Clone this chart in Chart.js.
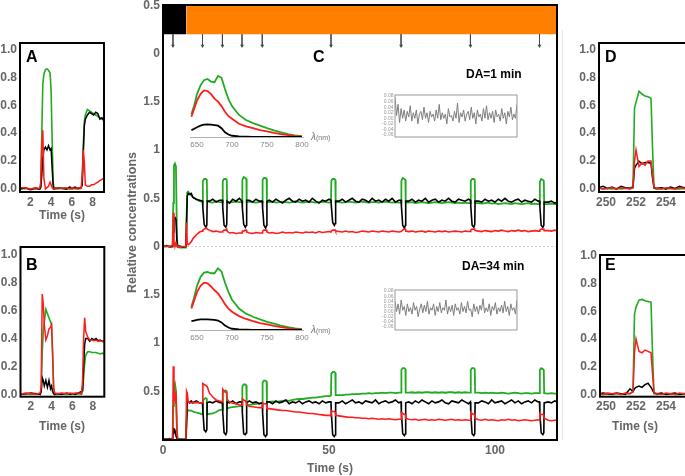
<!DOCTYPE html>
<html><head><meta charset="utf-8">
<script src="https://cdn.jsdelivr.net/npm/chart.js@4.4.1/dist/chart.umd.min.js"></script>
<style>
html,body{margin:0;padding:0;background:#fff;overflow:hidden;width:685px;height:476px;}
canvas{position:absolute;}
</style></head><body>
<canvas id="cC"></canvas>
<canvas id="cS1"></canvas>
<canvas id="cS2"></canvas>
<canvas id="cR1"></canvas>
<canvas id="cR2"></canvas>
<canvas id="cA"></canvas>
<canvas id="cB"></canvas>
<canvas id="cD"></canvas>
<canvas id="cE"></canvas>
<svg width="685" height="476" style="position:absolute;left:0;top:0" font-family="Liberation Sans, Arial, sans-serif">
  <line x1="562.5" y1="30" x2="562.5" y2="440" stroke="#e4e4e4" stroke-width="1"/>
  <g font-weight="bold" font-size="16" fill="#000">
    <text x="26" y="62">A</text>
    <text x="26" y="270">B</text>
    <text x="313" y="62">C</text>
    <text x="605" y="62">D</text>
    <text x="605" y="270">E</text>
  </g>
  <g font-weight="bold" font-size="12" fill="#000">
    <text x="466" y="77.5">DA=1 min</text>
    <text x="462" y="269.5">DA=34 min</text>
  </g>
  <g font-weight="bold" font-size="12" fill="#666" text-anchor="middle">
    <text x="62" y="219">Time (s)</text>
    <text x="62" y="430">Time (s)</text>
    <text x="330" y="472">Time (s)</text>
    <text x="635" y="430">Time (s)</text>
  </g>
  <g fill="#777">
    <text x="311" y="140"><tspan font-style="italic" font-size="10">λ</tspan><tspan font-size="7">(nm)</tspan></text>
    <text x="311" y="333"><tspan font-style="italic" font-size="10">λ</tspan><tspan font-size="7">(nm)</tspan></text>
  </g>
</svg>
<script>
// ---------------- DATA ----------------
// Panel C time base (s)
const tC = [0,1,2,2.9,3.1,3.3,3.6,3.9,4.2,4.4,5,6,6.9,7.1,7.3,7.6,8,8.5,9,9.5,10,11,
 11.9,12.0,12.4,12.9,13.2,13.3,
 14,15,16,17,
 17.9,18.0,18.4,18.9,19.2,19.3,
 20,21,22,23,
 23.8,23.9,24.3,24.8,25.1,25.2,
 26,27,28,29,
 29.9,30.0,30.4,30.9,31.2,31.3,
 32,33,34,35,36,37,38,39,40,41,42,43,44,45,46,47,48,49,50,
 50.6,50.7,51.1,51.6,51.9,52.0,
 53,54,55,56,57,58,59,60,61,62,63,64,65,66,67,68,69,70,71,
 71.7,71.8,72.2,72.7,73.0,73.1,
 74,75,76,77,78,79,80,81,82,83,84,85,86,87,88,89,90,91,92,
 92.6,92.7,93.1,93.6,93.9,94.0,
 95,96,97,98,99,100,101,102,103,104,105,106,107,108,109,110,111,112,113,
 113.4,113.5,113.9,114.4,114.7,114.8,
 116,117,118,118.7];

// DA = 1 min (upper trace in C)
const topGreen = [0.0,0.0,0.005,0.0,0.45,0.84,0.86,0.83,0.1,-0.005,-0.01,-0.01,-0.01,0.3,0.56,0.57,0.55,0.53,0.51,0.5,0.49,0.47,
 0.465,0.68,0.70,0.70,0.69,0.47,
 0.46,0.455,0.47,0.46,
 0.46,0.68,0.70,0.70,0.69,0.46,
 0.455,0.46,0.465,0.46,
 0.46,0.69,0.72,0.71,0.70,0.46,
 0.465,0.46,0.455,0.46,
 0.46,0.69,0.71,0.71,0.70,0.46,
 0.46,0.465,0.455,0.46,0.465,0.46,0.455,0.46,0.47,0.46,0.455,0.46,0.465,0.46,0.455,0.46,0.465,0.46,0.455,
 0.46,0.68,0.70,0.70,0.69,0.46,
 0.46,0.455,0.46,0.465,0.46,0.455,0.46,0.465,0.46,0.455,0.46,0.46,0.455,0.46,0.465,0.46,0.455,0.46,0.455,
 0.455,0.68,0.71,0.70,0.69,0.455,
 0.455,0.46,0.45,0.455,0.46,0.455,0.45,0.455,0.46,0.455,0.45,0.455,0.46,0.455,0.45,0.455,0.45,0.455,0.45,
 0.45,0.68,0.70,0.70,0.69,0.45,
 0.45,0.445,0.45,0.455,0.445,0.45,0.44,0.445,0.45,0.445,0.44,0.45,0.445,0.44,0.445,0.45,0.44,0.445,0.44,
 0.44,0.67,0.70,0.69,0.68,0.44,
 0.44,0.445,0.44,0.44];
const topBlack = [0.0,0.01,-0.005,0.0,0.15,0.29,0.3,0.28,0.05,0.0,0.005,-0.005,0.0,0.25,0.52,0.55,0.54,0.55,0.51,0.5,0.49,0.48,
 0.47,0.40,0.23,0.20,0.22,0.47,
 0.47,0.49,0.46,0.48,
 0.48,0.40,0.22,0.20,0.23,0.47,
 0.45,0.49,0.47,0.50,
 0.47,0.40,0.23,0.20,0.22,0.48,
 0.48,0.46,0.49,0.47,
 0.47,0.40,0.22,0.19,0.22,0.47,
 0.48,0.46,0.49,0.47,0.45,0.48,0.50,0.47,0.46,0.49,0.47,0.48,0.46,0.50,0.47,0.45,0.48,0.47,0.49,
 0.48,0.42,0.25,0.22,0.24,0.47,
 0.47,0.49,0.46,0.48,0.50,0.47,0.46,0.49,0.48,0.46,0.50,0.47,0.48,0.46,0.49,0.47,0.50,0.46,0.48,
 0.48,0.42,0.22,0.19,0.22,0.47,
 0.47,0.49,0.46,0.48,0.47,0.50,0.46,0.48,0.49,0.46,0.48,0.47,0.50,0.47,0.46,0.49,0.48,0.47,0.49,
 0.48,0.42,0.22,0.20,0.23,0.47,
 0.47,0.46,0.49,0.47,0.48,0.46,0.49,0.47,0.50,0.47,0.46,0.48,0.49,0.46,0.48,0.47,0.46,0.49,0.47,
 0.47,0.42,0.22,0.20,0.22,0.46,
 0.46,0.47,0.45,0.46];
const topRed = [0.0,0.005,0.0,0.01,0.35,0.05,0.0,0.04,0.01,0.0,-0.005,0.0,0.0,0.25,0.03,0.02,0.03,0.05,0.08,0.1,0.12,0.15,
 0.16,0.17,0.18,0.19,0.19,0.18,
 0.17,0.155,0.16,0.15,
 0.15,0.16,0.17,0.17,0.18,0.16,
 0.14,0.145,0.135,0.14,
 0.14,0.16,0.16,0.17,0.17,0.15,
 0.14,0.135,0.145,0.14,
 0.14,0.16,0.17,0.17,0.17,0.15,
 0.14,0.145,0.135,0.14,0.15,0.14,0.145,0.14,0.15,0.145,0.14,0.15,0.145,0.15,0.14,0.155,0.145,0.15,0.155,
 0.15,0.16,0.17,0.17,0.17,0.16,
 0.155,0.15,0.16,0.15,0.155,0.145,0.15,0.16,0.155,0.15,0.16,0.155,0.15,0.16,0.155,0.15,0.16,0.155,0.15,
 0.155,0.16,0.17,0.18,0.18,0.16,
 0.155,0.16,0.15,0.155,0.16,0.15,0.16,0.155,0.15,0.16,0.155,0.16,0.15,0.155,0.16,0.155,0.15,0.16,0.155,
 0.155,0.17,0.18,0.18,0.18,0.165,
 0.16,0.155,0.165,0.16,0.155,0.165,0.16,0.17,0.16,0.155,0.165,0.16,0.17,0.16,0.165,0.155,0.16,0.165,0.16,
 0.16,0.17,0.18,0.18,0.18,0.165,
 0.165,0.16,0.17,0.165];

// DA = 34 min (lower trace in C)
const botGreen = [0.0,0.005,0.0,0.0,0.35,0.55,0.58,0.51,0.1,0.0,-0.005,0.0,0.0,0.15,0.29,0.305,0.3,0.3,0.29,0.285,0.28,0.27,
 0.26,0.40,0.42,0.43,0.42,0.26,
 0.265,0.27,0.285,0.305,
 0.31,0.48,0.50,0.51,0.50,0.32,
 0.33,0.335,0.34,0.345,
 0.35,0.55,0.57,0.57,0.56,0.355,
 0.36,0.365,0.37,0.375,
 0.38,0.59,0.61,0.61,0.60,0.385,
 0.39,0.395,0.39,0.395,0.40,0.405,0.40,0.41,0.415,0.42,0.42,0.425,0.43,0.435,0.435,0.44,0.445,0.45,0.45,
 0.455,0.68,0.70,0.70,0.69,0.46,
 0.46,0.46,0.465,0.465,0.47,0.47,0.47,0.475,0.475,0.48,0.475,0.48,0.48,0.485,0.48,0.485,0.485,0.48,0.485,
 0.485,0.72,0.74,0.74,0.73,0.485,
 0.485,0.49,0.485,0.49,0.485,0.49,0.49,0.485,0.49,0.485,0.49,0.485,0.49,0.49,0.485,0.49,0.485,0.49,0.485,
 0.485,0.72,0.74,0.74,0.73,0.485,
 0.485,0.48,0.485,0.48,0.485,0.48,0.48,0.485,0.48,0.475,0.48,0.485,0.48,0.475,0.48,0.48,0.475,0.48,0.48,
 0.48,0.72,0.74,0.73,0.72,0.48,
 0.475,0.48,0.475,0.475];
const botBlack = [0.01,0.0,0.01,0.0,0.12,0.07,0.09,0.04,0.01,0.0,0.005,0.0,0.005,0.2,0.4,0.39,0.38,0.4,0.38,0.39,0.4,0.38,
 0.38,0.30,0.10,0.08,0.10,0.38,
 0.39,0.38,0.40,0.385,
 0.38,0.28,0.07,0.05,0.08,0.39,
 0.38,0.40,0.37,0.39,
 0.39,0.28,0.06,0.05,0.07,0.38,
 0.40,0.38,0.39,0.37,
 0.38,0.28,0.05,0.03,0.05,0.39,
 0.39,0.37,0.40,0.38,0.39,0.41,0.37,0.39,0.38,0.40,0.37,0.39,0.40,0.38,0.39,0.37,0.40,0.38,0.39,
 0.39,0.28,0.05,0.03,0.05,0.38,
 0.38,0.40,0.37,0.39,0.41,0.38,0.39,0.37,0.40,0.39,0.38,0.41,0.37,0.39,0.40,0.38,0.39,0.41,0.38,
 0.39,0.28,0.06,0.04,0.06,0.38,
 0.39,0.37,0.40,0.38,0.41,0.39,0.37,0.40,0.38,0.39,0.41,0.38,0.37,0.40,0.39,0.38,0.41,0.39,0.37,
 0.39,0.28,0.06,0.04,0.06,0.38,
 0.38,0.40,0.39,0.37,0.41,0.38,0.39,0.40,0.37,0.39,0.41,0.38,0.40,0.37,0.39,0.40,0.38,0.41,0.39,
 0.39,0.28,0.07,0.05,0.07,0.38,
 0.39,0.38,0.40,0.39];
const botRed = [0.0,0.0,0.005,0.0,0.76,0.45,0.41,0.5,0.1,0.0,0.0,-0.005,0.0,0.5,0.48,0.39,0.385,0.38,0.39,0.38,0.385,0.38,
 0.38,0.58,0.57,0.56,0.55,0.55,
 0.48,0.44,0.41,0.40,
 0.39,0.52,0.50,0.49,0.48,0.42,
 0.39,0.375,0.37,0.36,
 0.355,0.42,0.41,0.40,0.39,0.36,
 0.345,0.34,0.335,0.33,
 0.33,0.38,0.37,0.37,0.36,0.32,
 0.32,0.315,0.31,0.305,0.30,0.30,0.295,0.29,0.285,0.285,0.28,0.275,0.27,0.27,0.265,0.26,0.255,0.25,0.25,
 0.245,0.30,0.29,0.29,0.28,0.25,
 0.245,0.24,0.235,0.23,0.23,0.225,0.225,0.22,0.22,0.215,0.22,0.215,0.21,0.215,0.21,0.215,0.21,0.205,0.21,
 0.21,0.28,0.27,0.26,0.26,0.22,
 0.21,0.205,0.21,0.20,0.205,0.21,0.20,0.205,0.20,0.21,0.205,0.20,0.205,0.21,0.20,0.205,0.20,0.205,0.20,
 0.20,0.28,0.27,0.26,0.26,0.22,
 0.205,0.20,0.21,0.20,0.205,0.20,0.195,0.205,0.20,0.21,0.20,0.205,0.195,0.20,0.205,0.20,0.195,0.20,0.205,
 0.20,0.27,0.26,0.26,0.25,0.22,
 0.20,0.195,0.20,0.20];

// Light protocol bar (s) and flash arrows (s)
const barStart = [0, 7];
const barEnd = [7, 118.7];
const arrowTimes = [3.0, 11.9, 17.9, 23.8, 29.9, 50.6, 71.7, 92.6, 113.4];

// Panels A / B (zoom 1–9 s)
const tAB = [1.0,1.5,2.0,2.5,2.9,3.0,3.1,3.2,3.3,3.45,3.6,3.75,3.9,4.0,4.1,4.2,4.3,4.5,5.0,5.5,5.8,6.0,6.3,6.6,6.9,7.0,7.1,7.2,7.3,7.5,7.7,7.9,8.1,8.3,8.5,8.7,8.9,9.1];
const aGreen = [0.0,0.005,0.0,0.005,0.0,0.02,0.4,0.75,0.82,0.855,0.86,0.85,0.83,0.7,0.35,0.05,0.0,0.0,0.005,0.0,0.005,0.0,0.005,0.0,0.005,0.05,0.3,0.48,0.53,0.57,0.56,0.55,0.54,0.53,0.52,0.51,0.5,0.49];
const aBlack = [0.0,0.01,-0.005,0.005,0.0,0.01,0.1,0.22,0.28,0.3,0.28,0.31,0.28,0.29,0.15,0.02,0.0,0.01,0.005,0.0,0.015,0.005,0.015,0.005,0.01,0.03,0.25,0.45,0.5,0.53,0.55,0.54,0.53,0.55,0.54,0.5,0.51,0.49];
const aRed = [0.01,0.01,0.0,0.01,0.005,0.05,0.3,0.42,0.08,0.0,0.01,0.02,0.05,0.03,0.01,0.0,0.0,0.01,0.005,0.01,0.0,0.01,0.005,0.01,0.005,0.1,0.28,0.2,0.03,0.02,0.02,0.03,0.03,0.04,0.05,0.06,0.07,0.08];
const bGreen = [0.0,0.005,0.0,0.005,0.0,0.02,0.3,0.45,0.52,0.61,0.58,0.55,0.52,0.5,0.3,0.05,0.0,0.0,0.005,0.0,0.005,0.005,0.0,0.005,0.0,0.02,0.12,0.22,0.28,0.305,0.305,0.3,0.3,0.3,0.295,0.29,0.295,0.29];
const bBlack = [0.0,0.005,0.01,0.005,0.0,0.02,0.12,0.1,0.06,0.1,0.05,0.1,0.04,0.06,0.02,0.005,0.0,0.005,0.0,0.01,0.0,0.005,0.0,0.01,0.02,0.03,0.2,0.36,0.4,0.4,0.38,0.4,0.39,0.4,0.385,0.39,0.38,0.385];
const bRed = [0.0,0.01,0.005,0.0,0.01,0.05,0.72,0.65,0.5,0.39,0.42,0.47,0.48,0.5,0.3,0.05,0.01,0.005,0.01,0.005,0.01,0.005,0.01,0.01,0.005,0.1,0.4,0.55,0.45,0.41,0.39,0.39,0.385,0.39,0.38,0.385,0.38,0.375];

// Panels D / E (zoom 249.5–255.5 s)
const tDE = [249.5,249.8,250.1,250.4,250.7,251.0,251.3,251.6,251.8,251.9,252.0,252.2,252.4,252.6,252.8,253.0,253.1,253.2,253.4,253.7,254.0,254.3,254.6,254.9,255.2,255.5];
const dGreen = [0.005,0.0,0.005,0.0,0.005,0.0,0.005,0.005,0.02,0.58,0.62,0.70,0.68,0.665,0.66,0.65,0.3,0.005,0.0,0.005,0.0,0.005,0.0,0.0,0.005,0.0];
const dBlack = [0.01,0.02,0.005,0.015,0.0,0.02,0.01,0.005,0.01,0.15,0.17,0.2,0.18,0.19,0.19,0.185,0.08,0.01,0.005,0.01,0.0,0.015,0.005,0.02,0.01,0.015];
const dRed = [0.01,0.0,0.005,0.01,0.0,0.01,0.005,0.0,0.01,0.2,0.28,0.16,0.19,0.17,0.2,0.2,0.1,0.01,0.005,0.0,0.01,0.005,0.0,0.01,0.005,0.0];
const eGreen = [0.005,0.0,0.005,0.0,0.005,0.0,0.005,0.005,0.02,0.58,0.63,0.68,0.685,0.675,0.67,0.665,0.3,0.005,0.0,0.005,0.0,0.005,0.0,0.0,0.005,0.0];
const eBlack = [0.0,0.01,0.005,0.0,0.01,0.005,0.0,0.04,0.02,0.04,0.05,0.06,0.05,0.07,0.08,0.05,0.03,0.01,0.005,0.01,0.0,0.005,0.01,0.0,0.005,0.01];
const eRed = [0.01,0.0,0.01,0.005,0.01,0.0,0.01,0.005,0.02,0.3,0.4,0.31,0.3,0.32,0.31,0.3,0.15,0.01,0.005,0.0,0.01,0.005,0.0,0.01,0.005,0.0];

// Spectra insets (nm, arbitrary units)
const specNm = [642,646,650,655,660,665,670,675,680,685,690,695,700,710,720,730,740,750,760,770,780,790,800];
const spec1Green = [0.36,0.5,0.68,0.82,0.9,0.92,0.88,0.87,0.97,0.94,0.76,0.6,0.49,0.35,0.27,0.22,0.18,0.14,0.105,0.075,0.045,0.025,0.015];
const spec1Red = [0.32,0.45,0.58,0.68,0.74,0.73,0.68,0.61,0.56,0.49,0.4,0.33,0.29,0.21,0.17,0.14,0.11,0.09,0.065,0.045,0.03,0.015,0.005];
const spec1Black = [0.11,0.13,0.155,0.18,0.195,0.2,0.195,0.19,0.18,0.14,0.075,0.04,0.02,0.01,0.005,0,0,0,0,0,0,0,0];
const spec2Green = [0.37,0.52,0.7,0.84,0.91,0.92,0.9,0.9,0.98,0.93,0.75,0.6,0.48,0.34,0.26,0.21,0.17,0.13,0.1,0.07,0.045,0.025,0.015];
const spec2Red = [0.34,0.47,0.6,0.7,0.75,0.74,0.69,0.63,0.58,0.5,0.41,0.34,0.29,0.22,0.175,0.14,0.11,0.09,0.065,0.045,0.03,0.015,0.005];
const spec2Black = [0.14,0.15,0.16,0.17,0.17,0.17,0.165,0.16,0.15,0.12,0.07,0.04,0.02,0.01,0.005,0,0,0,0,0,0,0,0];

// Residual insets
const res1 = [0.075,0.01,0.05,-0.015,0.035,0.0,0.03,-0.01,0.025,0.005,0.045,-0.01,0.02,0.0,0.03,-0.02,0.015,0.025,-0.005,0.04,0.0,0.02,-0.015,0.025,0.005,0.015,-0.01,0.03,0.0,0.05,-0.005,0.02,0.0,0.015,-0.02,0.035,0.005,0.01,-0.01,0.025,0.0,0.055,-0.015,0.02,0.005,0.03,-0.01,0.015,0.025,-0.005,0.04,0.0,0.02,-0.02,0.03,0.005,0.015,-0.01,0.035,0.0,0.045,-0.005,0.02,0.0,0.025,-0.015,0.03,0.005,0.015,-0.01,0.035,0.0,0.02,-0.02,0.025,0.005,0.04,-0.005,0.015,0.0,0.05];
const res2 = [0.04,0.0,0.03,-0.01,0.045,0.005,0.02,-0.015,0.03,0.0,0.015,-0.01,0.035,0.005,0.02,-0.02,0.01,0.03,-0.005,0.025,0.0,0.04,-0.01,0.015,0.005,0.03,-0.015,0.02,0.0,0.035,-0.005,0.015,0.005,0.045,-0.01,0.02,0.0,0.025,-0.015,0.03,0.005,0.015,-0.01,0.035,0.0,0.02,-0.005,0.04,0.005,0.01,-0.02,0.03,0.0,0.02,-0.01,0.025,0.005,0.05,-0.005,0.015,0.0,0.03,-0.015,0.02,0.005,0.035,-0.01,0.015,0.0,0.025,-0.005,0.04,0.0,0.02,-0.015,0.03,0.005,0.015,-0.01,0.045];

// Tick values / labels
const panelYTicks = [0, 0.2, 0.4, 0.6, 0.8, 1.0];
const panelYLabels = ['0.0','0.2','0.4','0.6','0.8','1.0'];
const abXTicks = [2, 4, 6, 8];
const abXLabels = ['2','4','6','8'];
const deXTicks = [250, 252, 254];
const deXLabels = ['250','252','254'];
const cXTicks = [0, 50, 100];
const cXLabels = ['0','50','100'];
const cYTicks = [0.5, 1, 1.5, 2, 2.5, 3, 3.5, 4, 4.5];
const cYLabels = ['0.5','1','1.5','0','0.5','1','1.5','0','0.5'];
const specXTicks = [650, 700, 750, 800];
const specXLabels = ['650','700','750','800'];
const resYTicks = [0.08, 0.06, 0.04, 0.02, 0, -0.02, -0.04, -0.06];
const resYLabels = ['0.08','0.06','0.04','0.02','0.00','-0.02','-0.04','-0.06'];

// ---------------- RENDER ----------------
Chart.defaults.font.family = "'Liberation Sans', Arial, sans-serif";
Chart.defaults.color = '#666';
const GREEN = '#22ab22', RED = '#ff1c1c', BLACK = '#000000';
const TOP_OFFSET = 2;     // vertical stacking of the DA=1 min trace in C
const BAR_LOW = 4.2, BAR_HIGH = 4.5, ARROW_END = 4.08;

Chart.register({
  id: 'frame',
  defaults: { width: 0, color: '#000' },
  afterDraw(chart, args, opts) {
    if (!opts.width) return;
    const a = chart.chartArea, ctx = chart.ctx;
    ctx.save(); ctx.strokeStyle = opts.color; ctx.lineWidth = opts.width;
    ctx.strokeRect(a.left, a.top, a.right - a.left, a.bottom - a.top);
    ctx.restore();
  }
});

function series(xs, ys, color, width, offset) {
  offset = offset || 0;
  return { data: xs.map((x, i) => ({ x: x, y: ys[i] + offset })), borderColor: color,
    borderWidth: width, pointRadius: 0, fill: false, tension: 0 };
}
const boldTick = { size: 12, weight: 'bold' };
function axis(o) {
  return {
    type: 'linear', min: o.min, max: o.max, display: o.display !== false,
    grid: { display: false, drawTicks: false },
    border: { display: !!o.border, color: o.border || '#000', width: 1 },
    ticks: { autoSkip: false, maxRotation: 0, minRotation: 0, padding: (o.pad === undefined ? 3 : o.pad),
      font: o.font || boldTick, color: o.color || '#666',
      callback: v => { const i = o.ticks ? o.ticks.indexOf(v) : -1; return i >= 0 ? o.labels[i] : ''; } },
    afterBuildTicks: s => { if (o.ticks) s.ticks = o.ticks.map(v => ({ value: v })); },
    afterFit: s => { if (s.isHorizontal()) s.height = o.size; else s.width = o.size;
      s.paddingTop = 0; s.paddingBottom = 0; s.paddingLeft = 0; s.paddingRight = 0; },
    title: o.title || { display: false }
  };
}
function make(id, box, datasets, x, y, frame) {
  const el = document.getElementById(id);
  el.width = box.w; el.height = box.h;
  el.style.left = box.left + 'px'; el.style.top = box.top + 'px';
  el.style.width = box.w + 'px'; el.style.height = box.h + 'px';
  return new Chart(el, {
    type: 'line',
    data: { datasets: datasets },
    options: {
      responsive: false, animation: false, devicePixelRatio: 1,
      layout: { padding: box.pad },
      plugins: { legend: { display: false }, tooltip: { enabled: false }, frame: frame || { width: 0 } },
      scales: { x: x, y: y }
    }
  });
}

// ---- Panel C ----
const arrowData = [];
arrowTimes.forEach(t => { arrowData.push({ x: t, y: BAR_LOW }, { x: t, y: ARROW_END }, { x: t, y: null }); });
const cDatasets = [
  { data: arrowData, borderColor: '#444', borderWidth: 0.8, spanGaps: false, fill: false,
    pointRadius: c => (c.dataIndex % 3 === 1 ? 2.2 : 0), pointStyle: 'triangle', rotation: 180,
    pointBackgroundColor: '#444', pointBorderWidth: 0 },
  series(tC, topRed, RED, 1.6, TOP_OFFSET),
  series(tC, topBlack, BLACK, 1.6, TOP_OFFSET),
  series(tC, topGreen, GREEN, 1.8, TOP_OFFSET),
  series(tC, botRed, RED, 1.6),
  series(tC, botBlack, BLACK, 1.6),
  series(tC, botGreen, GREEN, 1.8),
  { data: [{ x: barStart[0], y: BAR_HIGH }, { x: barEnd[0], y: BAR_HIGH }], borderColor: 'rgba(0,0,0,0)',
    backgroundColor: '#000', fill: { value: BAR_LOW }, pointRadius: 0 },
  { data: [{ x: barStart[1], y: BAR_HIGH }, { x: barEnd[1], y: BAR_HIGH }], borderColor: 'rgba(0,0,0,0)',
    backgroundColor: '#ff8000', fill: { value: BAR_LOW }, pointRadius: 0 },
  { data: [{ x: 0, y: TOP_OFFSET }, { x: 118.7, y: TOP_OFFSET }], borderColor: '#cfcfcf', borderWidth: 1,
    borderDash: [2, 2], pointRadius: 0, fill: false }
];
make('cC', { left: 120, top: 0, w: 445, h: 476, pad: { left: 0, top: 5, right: 8, bottom: 1 } }, cDatasets,
  axis({ min: 0, max: 118.67, ticks: cXTicks, labels: cXLabels, size: 35 }),
  axis({ min: -0.005, max: 4.503, ticks: cYTicks, labels: cYLabels, size: 43,
    title: { display: true, text: 'Relative concentrations', font: { size: 12.5, weight: 'bold' }, color: '#666',
      padding: { top: 5, bottom: 0 } } }),
  { width: 2, color: '#000' });

// ---- Spectra insets ----
const specFont = { size: 8 };
function specChart(id, top, g, r, k) {
  make(id, { left: 185, top: top, w: 125, h: 95, pad: { left: 5, top: 5, right: 6.6, bottom: 0 } },
    [series(specNm, k, BLACK, 1.8), series(specNm, r, RED, 1.8), series(specNm, g, GREEN, 1.8)],
    axis({ min: 640, max: 802, ticks: specXTicks, labels: specXLabels, size: 23, font: specFont, color: '#888', border: '#b0b0b0' }),
    axis({ min: 0, max: 1.063, display: false, size: 0 }));
}
specChart('cS1', 65, spec1Green, spec1Red, spec1Black);
specChart('cS2', 258, spec2Green, spec2Red, spec2Black);

// ---- Residual insets ----
function resChart(id, top, h, vals, ymin, ymax) {
  make(id, { left: 370, top: top, w: 150, h: h, pad: { left: 0, top: 5, right: 3, bottom: 5 } },
    [{ data: vals.map((v, i) => ({ x: i, y: v })), borderColor: '#7d7d7d', borderWidth: 1, pointRadius: 0, fill: false }],
    axis({ min: 0, max: vals.length - 1, display: false, size: 0 }),
    axis({ min: ymin, max: ymax, ticks: resYTicks, labels: resYLabels, size: 25, font: { size: 5 }, color: '#999', pad: 1.5 }),
    { width: 1, color: '#999' });
}
resChart('cR1', 90, 52, res1, -0.067, 0.0836);
resChart('cR2', 285, 50, res2, -0.0717, 0.0839);

// ---- Panels A, B, D, E ----
function panel(id, box, xs, g, k, r, xmin, xmax, xt, xl, ymin, ymax, ysize) {
  make(id, box, [series(xs, r, RED, 1.5), series(xs, k, BLACK, 1.5), series(xs, g, GREEN, 1.6)],
    axis({ min: xmin, max: xmax, ticks: xt, labels: xl, size: 20 }),
    axis({ min: ymin, max: ymax, ticks: panelYTicks, labels: panelYLabels, size: ysize }),
    { width: 2, color: '#000' });
}
panel('cA', { left: 0, top: 35, w: 110, h: 180, pad: { left: 0, top: 8, right: 6, bottom: 3 } },
  tAB, aGreen, aBlack, aRed, 1.0, 9.1, abXTicks, abXLabels, -0.021, 1.045, 20);
panel('cB', { left: 0, top: 240, w: 110, h: 180, pad: { left: 0, top: 7, right: 5.7, bottom: 3.3 } },
  tAB, bGreen, bBlack, bRed, 1.0, 9.1, abXTicks, abXLabels, -0.017, 1.057, 20.5);
panel('cD', { left: 560, top: 35, w: 130, h: 180, pad: { left: 0, top: 8, right: 2, bottom: 3 } },
  tDE, dGreen, dBlack, dRed, 249.533, 255.467, deXTicks, deXLabels, -0.021, 1.045, 39);
panel('cE', { left: 560, top: 240, w: 130, h: 180, pad: { left: 0, top: 15, right: 2, bottom: 3.3 } },
  tDE, eGreen, eBlack, eRed, 249.6, 255.467, deXTicks, deXLabels, -0.017, 1.006, 40);
</script>
</body></html>
